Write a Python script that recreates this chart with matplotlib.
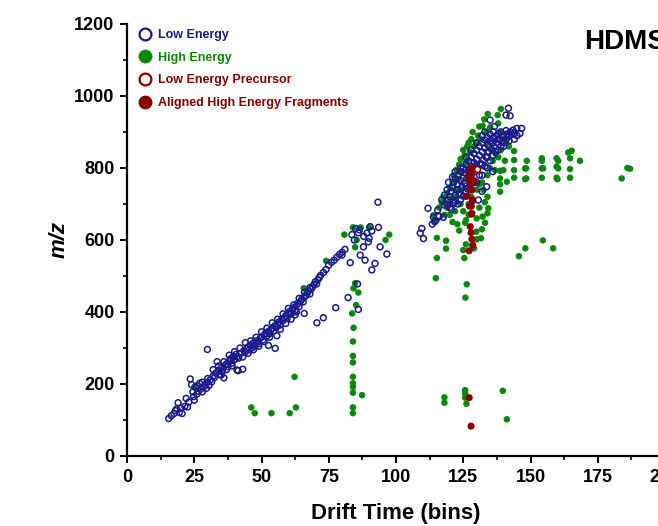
import numpy as np
import matplotlib
matplotlib.use("Agg")
import matplotlib.pyplot as plt
from matplotlib.lines import Line2D

plt.rcParams['font.family'] = ['Liberation Sans', 'DejaVu Sans']
plt.rcParams['font.weight'] = 'bold'

# (drift time, m/z)
low_energy = [
    (15.5, 104), (16.5, 112), (17.5, 118), (18, 126), (18.5, 131), (19, 148), (19.5, 121), (20, 133),
    (20.5, 118), (21.5, 138), (22.5, 136), (23.5, 214), (24, 198), (24.5, 178), (24.8, 165), (25, 155),
    (25.5, 190), (26, 172), (26.5, 180), (27, 202), (27.5, 186), (28, 178), (28.5, 192), (29, 198),
    (29.5, 188), (30, 205), (30.5, 196), (31, 212), (31.5, 206), (32, 222), (32.5, 218), (33, 230),
    (33.5, 262), (34, 238), (34.5, 226), (35, 244), (35.5, 236), (36, 217), (36.5, 252), (37, 256),
    (37.5, 248), (38, 262), (38.5, 270), (39, 258), (39.5, 275), (40, 268), (40.5, 282), (41, 276),
    (41.5, 272), (40.9, 239), (41.3, 237), (42.5, 286), (43, 241), (43.5, 292), (44, 289), (44.5, 298),
    (45, 303), (45.5, 295), (46, 308), (46.5, 300), (47, 314), (47.5, 306), (48, 320), (48.5, 316),
    (49, 312), (49.5, 327), (50, 330), (50.5, 322), (51, 336), (51.5, 341), (52, 333), (52.5, 346),
    (53, 340), (53.5, 350), (54, 355), (54.5, 347), (55, 362), (55.5, 357), (56, 366), (56.5, 372),
    (57, 364), (57.5, 380), (58, 376), (58.5, 384), (59, 390), (59.5, 382), (60, 396), (60.5, 402),
    (61, 394), (61.5, 408), (62, 412), (62.5, 404), (63, 418), (63.5, 424), (64, 415), (64.5, 430),
    (65, 436), (65.5, 428), (66, 442), (66.5, 446), (67, 452), (67.5, 458), (68, 450), (68.5, 464),
    (69, 470), (69.5, 476), (70, 484), (70.5, 478), (71, 490), (71.5, 496), (72, 502), (73, 510),
    (74, 518), (75, 530), (76, 538), (77, 544), (78, 552), (79, 560), (80, 566), (81, 574),
    (22, 160), (23, 150), (26, 195), (28, 205), (30, 215), (32, 240), (34, 250), (36, 262),
    (38, 280), (40, 290), (42, 300), (44, 315), (46, 320), (48, 330), (50, 345), (52, 355),
    (54, 370), (56, 380), (58, 395), (60, 410), (62, 420), (64, 438), (66, 455), (68, 468),
    (45, 285), (47, 295), (49, 305), (51, 318), (53, 330), (57, 352), (59, 368), (61, 380),
    (63, 400), (35, 225), (37, 240), (39, 250), (43, 275), (35.3, 234), (38.4, 267), (39.6, 276),
    (29.9, 296), (55.7, 334), (52.6, 307), (55.1, 299), (62.5, 392), (65.9, 396), (73, 384),
    (70.6, 370), (77.6, 412), (82.2, 440), (86, 407), (85.7, 478), (83, 537), (79.9, 558),
    (86.7, 558), (88.5, 544), (91, 517), (92.2, 535), (94.1, 581), (96.6, 561), (83.6, 615),
    (86.4, 628), (89.2, 619), (90.4, 637), (93.5, 635), (89.7, 595), (87.9, 581), (93.3, 705),
    (86, 620), (88, 610), (84.5, 600), (91, 625), (85, 632), (90, 605),
    (109.6, 632), (109, 619), (110.2, 604), (111.9, 688), (113.5, 644), (114.4, 651), (113.9, 663),
    (115.5, 683), (115.8, 667), (117.6, 663), (118, 697), (120.7, 685), (121.3, 702), (119.5, 711),
    (121.7, 704), (116, 665), (114.5, 653),
    (120, 720), (120.5, 735), (121, 745), (121.5, 760), (122, 725), (122, 770), (122.5, 740),
    (123, 755), (123, 780), (123.5, 730), (124, 765), (124, 790), (124.5, 748), (125, 800),
    (125, 772), (125.5, 758), (126, 785), (126, 810), (126.5, 742), (127, 795), (127, 820),
    (127.5, 770), (128, 805), (128, 830), (128.5, 760), (129, 815), (129, 840), (129.5, 790),
    (130, 825), (130, 850), (130.5, 800), (131, 835), (131, 860), (131.5, 812), (132, 845),
    (132, 870), (132.5, 822), (133, 855), (133, 878), (133.5, 830), (134, 865), (134, 885),
    (134.5, 845), (135, 875), (135, 894), (135.5, 852), (136, 882), (136.2, 901), (136.6, 915),
    (136.5, 860), (137, 888), (137.5, 870), (138, 895), (138.5, 878), (139, 900), (139.5, 885),
    (140, 892), (140.9, 904), (141, 880), (141.5, 895), (142, 888), (142.5, 900), (143, 893),
    (143.5, 905), (144, 898), (144.9, 910), (146.7, 910), (146.1, 896), (145, 890), (141.8, 966),
    (140.9, 947), (142.4, 945), (135, 933), (123, 700), (124, 712), (125, 722), (126, 735),
    (127, 745), (122, 790), (121, 775), (119, 740), (118, 725), (119.5, 760), (117, 712),
    (124, 800), (126, 830), (128, 850), (130, 870), (132, 890), (133, 900), (129, 760),
    (131, 780), (133, 805), (135, 820), (137, 845), (139, 860), (128, 780), (130, 795),
    (132, 810), (134, 830), (130.6, 711), (133.7, 748), (132, 735), (136, 790),
    (119, 700), (120, 690), (122, 710), (124, 725), (126, 750), (128, 740), (130, 760),
    (132, 780), (134, 800), (136, 835), (138, 850), (140, 870), (142, 875), (144, 880),
    (126, 795), (128, 815), (134, 845), (136, 870), (138, 880), (140, 860),
]

high_energy = [
    (84, 635), (80.8, 615), (86.9, 635), (90, 635), (84.8, 580), (85.4, 600), (96.1, 600),
    (97.5, 615), (74, 542), (65.7, 466), (84.8, 480), (84.2, 466), (86, 454), (85.2, 419),
    (83.7, 396), (84.2, 356), (84, 318), (84, 278), (84, 260), (62.3, 220), (84, 220), (84, 202),
    (84, 192), (84, 176), (87.4, 169), (25, 192), (46.2, 135), (62.8, 135), (47.5, 119),
    (53.7, 119), (60.5, 119), (84, 135), (84, 119), (118, 163), (118, 148), (125.7, 183),
    (125.7, 174), (125.7, 162), (126.2, 145), (139.7, 181), (141.2, 102),
    (115.2, 606), (118.6, 598), (118.6, 576), (115.2, 550), (114.8, 494), (125.4, 550),
    (126.3, 477), (125.8, 440), (154.6, 599), (148.1, 577), (145.7, 555), (158.4, 577),
    (148.6, 820), (148, 799), (148.4, 799), (148.4, 771), (148, 769), (154.2, 827), (154.2, 820),
    (154.7, 799), (154.2, 799), (154.2, 773), (159.7, 827), (160.3, 820), (160.3, 799),
    (159.7, 804), (159.7, 773), (160, 769), (164, 843), (165.3, 848), (164.7, 827), (164.7, 797),
    (164.7, 773), (168.4, 820), (183.9, 771), (186, 800), (187, 798),
    (113.9, 669), (115.1, 655), (116, 690), (117, 705), (117.6, 719), (118.5, 700), (119, 730),
    (120, 745), (120.5, 715), (121, 760), (122.4, 739), (121.5, 780), (122.5, 795), (123, 770),
    (123.5, 810), (124, 825), (124.5, 790), (125, 850), (125.5, 835), (126, 815), (126.5, 860),
    (127, 870), (127.5, 845), (128, 880), (128.5, 900), (129, 860), (130, 870), (130.5, 890),
    (131, 915), (131.5, 880), (132.2, 917), (132.8, 935), (134.1, 950), (137.8, 947), (139, 964),
    (135, 913), (133.7, 901), (138, 924), (138.7, 901), (143.9, 847), (143.9, 822), (143.9, 794),
    (143.9, 773), (140.5, 820), (139.9, 794), (138.7, 792), (138.7, 771), (138.7, 755),
    (141.2, 762), (138.7, 734), (132.5, 739), (131, 755), (135, 799), (136.8, 794), (134, 720),
    (133, 705), (131, 690), (130, 660), (132.2, 665), (134, 674), (134.3, 688), (133.1, 648),
    (131.9, 630), (131.6, 605), (129.8, 623), (130, 602), (129, 577), (125, 572), (126, 588),
    (122.8, 644), (125.7, 648), (123.5, 626), (127, 700), (126, 720), (124, 700), (125, 680),
    (127, 670), (126, 655), (122, 680), (120, 670), (121, 650), (119, 690), (128, 720),
    (130, 740), (132, 760), (134, 780), (136, 820), (137, 840), (139, 850), (141, 870),
    (140, 880), (142, 860), (138, 830), (136, 850), (134, 870), (130, 810), (128, 790),
    (126, 770), (124, 740), (122, 720), (120, 700), (118, 670),
]

precursor = [(130.2, 797)]

fragments = [
    (127.2, 162), (127.9, 83), (128.2, 674), (127.6, 637), (127.9, 620), (128.2, 602),
    (128.5, 586), (127.2, 570), (128, 694), (128.5, 709), (127.5, 794), (128, 785),
    (127.3, 771), (128, 757), (127.6, 743), (128.2, 739), (126.5, 722), (128.5, 711),
    (127.3, 694), (128.1, 672), (128.5, 800), (127, 780), (129, 765),
]

labels = ['Low Energy', 'High Energy', 'Low Energy Precursor', 'Aligned High Energy Fragments']
blue = '#1a1a8e'
green = '#0a8a0a'
red = '#8b0000'

low = np.array(low_energy)
high = np.array(high_energy)
prec = np.array(precursor)
frag = np.array(fragments)

fig = plt.figure(figsize=(6.58, 5.26), dpi=100)
ax = fig.add_axes([127 / 658, 70 / 526, 538 / 658, 432 / 526])

ax.scatter(high[:, 0], high[:, 1], s=22, color=green, edgecolors='none', zorder=2)
ax.scatter(low[:, 0], low[:, 1], s=18, facecolors='none', edgecolors=blue, linewidths=1.1, zorder=3)
ax.scatter(frag[:, 0], frag[:, 1], s=26, color=red, edgecolors='none', zorder=4)
ax.scatter(prec[:, 0], prec[:, 1], s=18, facecolors='white', edgecolors=red, linewidths=1.1, zorder=5)

ax.set_xlim(0, 200)
ax.set_ylim(0, 1200)
ax.set_xticks(np.arange(0, 201, 25))
ax.set_xticks(np.arange(12.5, 200, 25), minor=True)
ax.set_yticks(np.arange(0, 1201, 200))
ax.set_yticks(np.arange(100, 1200, 200), minor=True)

for side in ['top', 'right']:
    ax.spines[side].set_visible(False)
for side in ['left', 'bottom']:
    ax.spines[side].set_linewidth(1.6)

ax.tick_params(which='major', direction='out', length=5, width=1.4, labelsize=13, pad=4)
ax.tick_params(which='minor', direction='out', length=3, width=1.2)
for lab in ax.get_xticklabels() + ax.get_yticklabels():
    lab.set_fontweight('bold')

ax.set_xlabel('Drift Time (bins)', fontsize=16, fontweight='bold', labelpad=12.5)
ax.set_ylabel('m/z', fontsize=16, fontweight='bold', style='italic', labelpad=3)

handles = [
    Line2D([], [], ls='none', marker='o', ms=8.5, mfc='white', mec=blue, mew=1.6),
    Line2D([], [], ls='none', marker='o', ms=9, mfc=green, mec=green),
    Line2D([], [], ls='none', marker='o', ms=8.5, mfc='white', mec=red, mew=1.6),
    Line2D([], [], ls='none', marker='o', ms=9, mfc=red, mec=red),
]
fig.legend(handles, labels, loc='upper left', bbox_to_anchor=(138.5 / 658, 1 - 29 / 526),
           frameon=False, handlelength=1.0, handletextpad=0.6,
           labelspacing=0.85, borderpad=0, borderaxespad=0,
           labelcolor=[blue, green, red, red], prop={'weight': 'bold', 'size': 9})

fig.text(584 / 658, 1 - 49 / 526, 'HDMS', fontsize=20, fontweight='bold', va='baseline', ha='left')

fig.savefig('out.png', dpi=100)
